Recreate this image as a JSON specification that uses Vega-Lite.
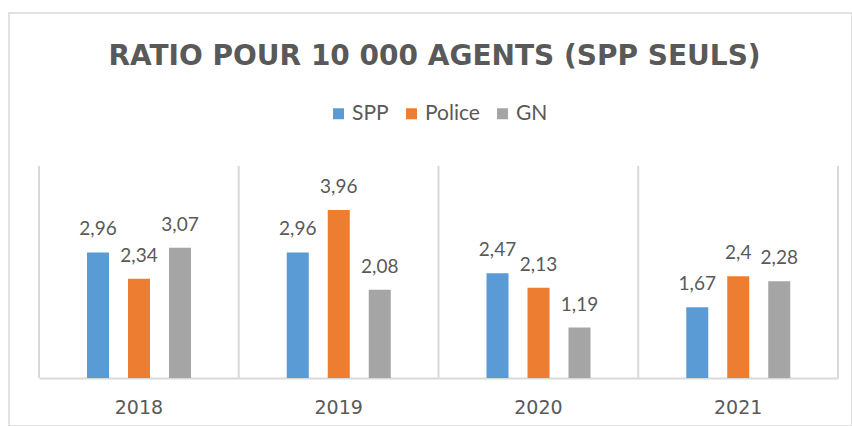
{
  "$schema": "https://vega.github.io/schema/vega-lite/v6.json",
  "width": 843,
  "height": 413,
  "autosize": {"type": "none"},
  "padding": {"left": 9, "top": 13, "right": 0, "bottom": 0},
  "background": "white",
  "title": {
    "text": "RATIO POUR 10 000 AGENTS (SPP SEULS)",
    "font": "DejaVu Sans",
    "fontSize": 28,
    "fontWeight": "bold",
    "color": "#595959",
    "anchor": "middle",
    "frame": "group",
    "baseline": "alphabetic",
    "offset": -80,
    "dx": 4
  },
  "datasets": {
    "ratios": [
      {"year": "2018", "series": "SPP", "value": 2.96},
      {"year": "2018", "series": "Police", "value": 2.34},
      {"year": "2018", "series": "GN", "value": 3.07},
      {"year": "2019", "series": "SPP", "value": 2.96},
      {"year": "2019", "series": "Police", "value": 3.96},
      {"year": "2019", "series": "GN", "value": 2.08},
      {"year": "2020", "series": "SPP", "value": 2.47},
      {"year": "2020", "series": "Police", "value": 2.13},
      {"year": "2020", "series": "GN", "value": 1.19},
      {"year": "2021", "series": "SPP", "value": 1.67},
      {"year": "2021", "series": "Police", "value": 2.4},
      {"year": "2021", "series": "GN", "value": 2.28}
    ],
    "years": [
      {"year": "2018"}, {"year": "2019"}, {"year": "2020"}, {"year": "2021"}
    ]
  },
  "encoding": {
    "x": {"field": "year", "type": "nominal",
      "scale": {"range": [30, 829], "paddingInner": 0, "paddingOuter": 0}},
    "y": {"type": "quantitative",
      "scale": {"domain": [0, 5], "range": [365, 153], "nice": false, "zero": true}}
  },
  "layer": [
    {
      "data": {"name": "years"},
      "mark": {"type": "rule", "color": "#d9d9d9", "strokeWidth": 2},
      "encoding": {
        "x": {"field": "year", "type": "nominal", "bandPosition": 0},
        "y": {"datum": 0, "type": "quantitative"},
        "y2": {"datum": 5}
      }
    },
    {
      "data": {"name": "years"},
      "transform": [{"filter": "datum.year == '2021'"}],
      "mark": {"type": "rule", "color": "#d9d9d9", "strokeWidth": 2},
      "encoding": {
        "x": {"field": "year", "type": "nominal", "bandPosition": 1},
        "y": {"datum": 0, "type": "quantitative"},
        "y2": {"datum": 5}
      }
    },
    {
      "data": {"name": "ratios"},
      "mark": {"type": "bar"},
      "encoding": {
        "xOffset": {"field": "series", "type": "nominal", "sort": ["SPP", "Police", "GN"],
          "scale": {"range": [48, 152], "paddingInner": 0.463, "paddingOuter": 0}},
        "y": {"field": "value", "type": "quantitative"},
        "color": {
          "field": "series", "type": "nominal",
          "sort": ["SPP", "Police", "GN"],
          "scale": {"domain": ["SPP", "Police", "GN"], "range": ["#5b9bd5", "#ed7d31", "#a5a5a5"]},
          "legend": {
            "orient": "none", "direction": "horizontal", "legendX": 319, "legendY": 90,
            "title": null, "symbolType": "square", "symbolSize": 121, "symbolStrokeWidth": 0,
            "labelFont": "Lato", "labelFontSize": 21, "labelColor": "#595959",
            "labelOffset": 3, "columnPadding": 12
          }
        }
      }
    },
    {
      "data": {"name": "ratios"},
      "mark": {"type": "text", "font": "Lato", "fontSize": 19, "color": "#595959", "baseline": "alphabetic", "dy": -17},
      "encoding": {
        "xOffset": {"field": "series", "type": "nominal", "sort": ["SPP", "Police", "GN"]},
        "y": {"field": "value", "type": "quantitative"},
        "text": {"field": "value", "type": "quantitative", "format": "~g"}
      }
    }
  ],
  "config": {
    "locale": {"number": {"decimal": ",", "thousands": " ", "grouping": [3], "currency": ["", " €"]}},
    "view": {"stroke": "#d9d9d9", "strokeWidth": 1.5},
    "axisX": {
      "orient": "bottom",
      "offset": -48,
      "title": null,
      "ticks": false,
      "grid": false,
      "domainColor": "#d9d9d9",
      "domainWidth": 2,
      "labelFont": "DejaVu Sans",
      "labelFontSize": 19,
      "labelColor": "#595959",
      "labelPadding": 20,
      "labelAngle": 0
    },
    "axisY": {"disable": true}
  }
}
